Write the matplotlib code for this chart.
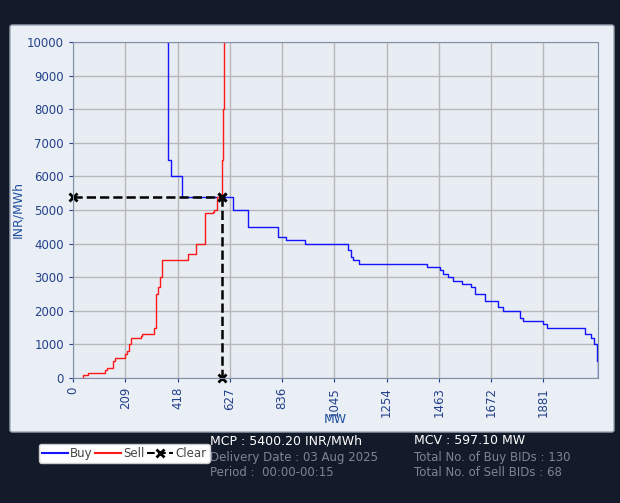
import matplotlib
matplotlib.use("Agg")
import matplotlib.pyplot as plt
from matplotlib.patches import FancyBboxPatch
from matplotlib.lines import Line2D

sell_mw = [40, 60, 128, 136, 160, 168, 208, 216, 224, 232, 272, 276, 324, 330, 340, 348, 356, 460, 492, 528, 560, 564, 576, 597, 600, 604, 608]
sell_p  = [0, 100, 150, 250, 300, 500, 600, 700, 800, 1000, 1200, 1250, 1300, 1500, 2500, 2700, 3000, 3500, 3700, 4000, 4900, 4950, 5000, 5400, 6500, 8000, 10000]
buy_mw = [376, 380, 392, 436, 640, 700, 820, 852, 928, 1100, 1110, 1120, 1144, 1416, 1468, 1480, 1500, 1520, 1556, 1590, 1608, 1648, 1700, 1720, 1788, 1800, 1880, 1896, 2048, 2070, 2084, 2096, 2100]
buy_p  = [10000, 6500, 6000, 5400, 5000, 4500, 4200, 4100, 4000, 3800, 3600, 3500, 3400, 3300, 3200, 3100, 3000, 2900, 2800, 2700, 2500, 2300, 2100, 2000, 1800, 1700, 1600, 1500, 1300, 1200, 1000, 500, 0]
mcp, mcv = 5400.20, 597.10
xticks = [0, 209, 418, 627, 836, 1045, 1254, 1463, 1672, 1881]
yticks = list(range(0, 10001, 1000))

fig = plt.figure(figsize=(6.2, 5.03), dpi=100)
fig.patch.set_facecolor("#131a2a")
panel = FancyBboxPatch((10/620, 1-432/503), 604/620, 407/503, boxstyle="round,pad=0,rounding_size=0.004",
                       transform=fig.transFigure, facecolor="#eaeef5", edgecolor="#9aa4b4", lw=1, zorder=-5)
fig.add_artist(panel)
ax = fig.add_axes([73/620, 1-378/503, 525/620, 336/503])
ax.set_zorder(1)
ax.set_facecolor("#e8ecf3")
ax.step(buy_mw, buy_p, where="post", color="#1414ff", lw=1)
ax.step(sell_mw, sell_p, where="pre", color="#ff1a1a", lw=1)
ax.plot([0, mcv], [mcp, mcp], color="black", ls="--", lw=1.8, marker="x", mew=2, ms=6, clip_on=False)
ax.plot([mcv, mcv], [mcp, 0], color="black", ls="--", lw=1.8, marker="x", mew=2, ms=6, clip_on=False)
ax.set_xlim(0, 2100)
ax.set_ylim(0, 10000)
ax.set_xticks(xticks)
ax.set_yticks(yticks)
ax.tick_params(axis="x", rotation=90, colors="#23418a", labelsize=8.5, length=3)
ax.tick_params(axis="y", colors="#23418a", labelsize=8.5, length=3)
ax.grid(color="#b8b8b8", lw=1)
ax.set_axisbelow(True)
for s in ax.spines.values():
    s.set_color("#8090a8")
ax.set_xlabel("MW", color="#2050a0", fontsize=9, labelpad=-3)
ax.set_ylabel("INR/MWh", color="#2050a0", fontsize=9, labelpad=2)

handles = [Line2D([], [], color="#1414ff", lw=1.5), Line2D([], [], color="#ff1a1a", lw=1.5),
           Line2D([], [], color="black", lw=1.5, ls="--", marker="x", mew=2)]
leg = fig.legend(handles, ["Buy", "Sell", "Clear"], loc="upper left", bbox_to_anchor=(33/620, 1-438/503), ncol=3,
                 fontsize=8.5, frameon=True, fancybox=True, handlelength=2.2, handletextpad=0.2, columnspacing=0.2,
                 borderpad=0.25, labelcolor="#444444", edgecolor="#cccccc", facecolor="white", framealpha=1)
fig.text(210/620, 1-441/503, "MCP : 5400.20 INR/MWh", color="white", fontsize=9, va="center")
fig.text(210/620, 1-457/503, "Delivery Date : 03 Aug 2025", color="#7d8494", fontsize=8.5, va="center")
fig.text(210/620, 1-472/503, "Period :  00:00-00:15", color="#7d8494", fontsize=8.5, va="center")
fig.text(414/620, 1-441/503, "MCV : 597.10 MW", color="white", fontsize=9, va="center")
fig.text(414/620, 1-457/503, "Total No. of Buy BIDs : 130", color="#7d8494", fontsize=8.5, va="center")
fig.text(414/620, 1-472/503, "Total No. of Sell BIDs : 68", color="#7d8494", fontsize=8.5, va="center")
fig.savefig("out.png", dpi=100, facecolor=fig.get_facecolor())
